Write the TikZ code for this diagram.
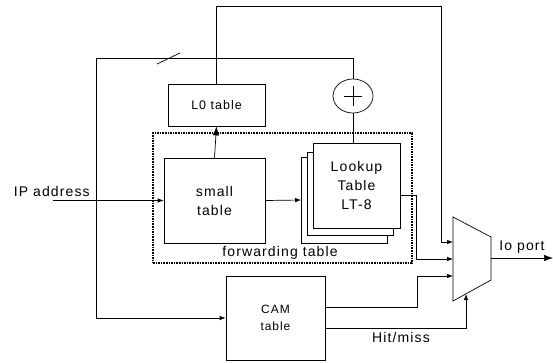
\documentclass[tikz,border=0pt]{standalone}
\usepackage{fontspec}
\setmainfont{Liberation Sans}[LetterSpace=8]
\usetikzlibrary{arrows.meta,shapes.geometric}
\begin{document}
\begin{tikzpicture}[x=1pt,y=-1pt,line width=0.7pt,
  box/.style={draw,fill=white,rectangle,inner sep=0pt,align=center,font=\fontsize{14}{19}\selectfont},
  lbl/.style={inner sep=0pt,font=\fontsize{14}{19}\selectfont},
  arr/.style={-{Latex[length=6pt,width=4.5pt]}},
  bigarr/.style={-{Latex[length=9pt,width=6.5pt]}},
  fwdbox/.style={draw,rectangle,inner sep=0pt,line width=1.2pt,dash pattern=on 1.6pt off 1pt}]
\useasboundingbox (0,0) rectangle (553,362);
% forwarding table frame
\node[fwdbox,minimum width=259pt,minimum height=130pt] (fwd) at (282.5,198) {};
\node[lbl] (fwdl) at (280,253) {forwarding table};
% boxes
\node[box,minimum width=97pt,minimum height=42pt,font=\fontsize{12.5}{15}\selectfont] (l0) at (216.5,105) {L0 table};
\node[box,minimum width=101pt,minimum height=85pt] (small) at (214.5,200.5) {small\\table};
\node[box,minimum width=86pt,minimum height=86pt] (back) at (344.5,200) {};
\node[box,minimum width=86pt,minimum height=83pt] (mid) at (350,193.5) {};
\node[box,minimum width=87pt,minimum height=85pt] (front) at (356.5,185.5) {Lookup\\Table\\LT-8};
\node[box,minimum width=99pt,minimum height=84pt,font=\fontsize{12}{17}\selectfont] (cam) at (275.5,318) {CAM\\table};
\node[draw,ellipse,minimum width=40pt,minimum height=34pt,inner sep=0pt] (sum) at (353,96) {};
\draw (sum.center) ++(-9,0) -- ++(18,0);
\draw (sum.center) ++(0,-10) -- ++(0,20);
% mux
\coordinate (m1) at (453,217);
\coordinate (m2) at (491,237);
\coordinate (m3) at (491,280);
\coordinate (m4) at (453,301);
\draw (m1) -- (m2) -- (m3) -- (m4) -- cycle;
\coordinate (in1) at (453,242);
\coordinate (in2) at (453,259);
\coordinate (in3) at (453,276);
\coordinate (hm) at (466,294);
\coordinate (out) at (491,258);
\coordinate (portend) at (553,258);
\node[lbl] (port) at (522,247) {Io port};
\node[lbl] (hitl) at (401,337) {Hit/miss};
% IP address
\node[lbl,anchor=east] (ip) at (90,191) {IP address};
\coordinate (ips) at (53,200.5);
% connectors
\draw[arr] (ips) -- (small.west);
\draw[bigarr] (small.north) -- (l0.south);
\draw[arr] (small.east) -- (back.west);
\draw (sum.south) -- (sum.south |- front.north);
\draw[arr] (l0.north) |- (441,6) |- (in1);
\draw[arr] (sum.north) |- (96,58) |- (cam.west);
\draw (157,64) -- (180,53);
\draw[arr] ([yshift=-9.5pt]front.east) -| (416,259) -- (in2);
\draw[arr] ([yshift=11pt]cam.east) -| (417,276) -- (in3);
\draw[arr] ([yshift=-10pt]cam.east) -| (hm);
\draw[bigarr] (out) -- (portend);
\end{tikzpicture}
\end{document}
